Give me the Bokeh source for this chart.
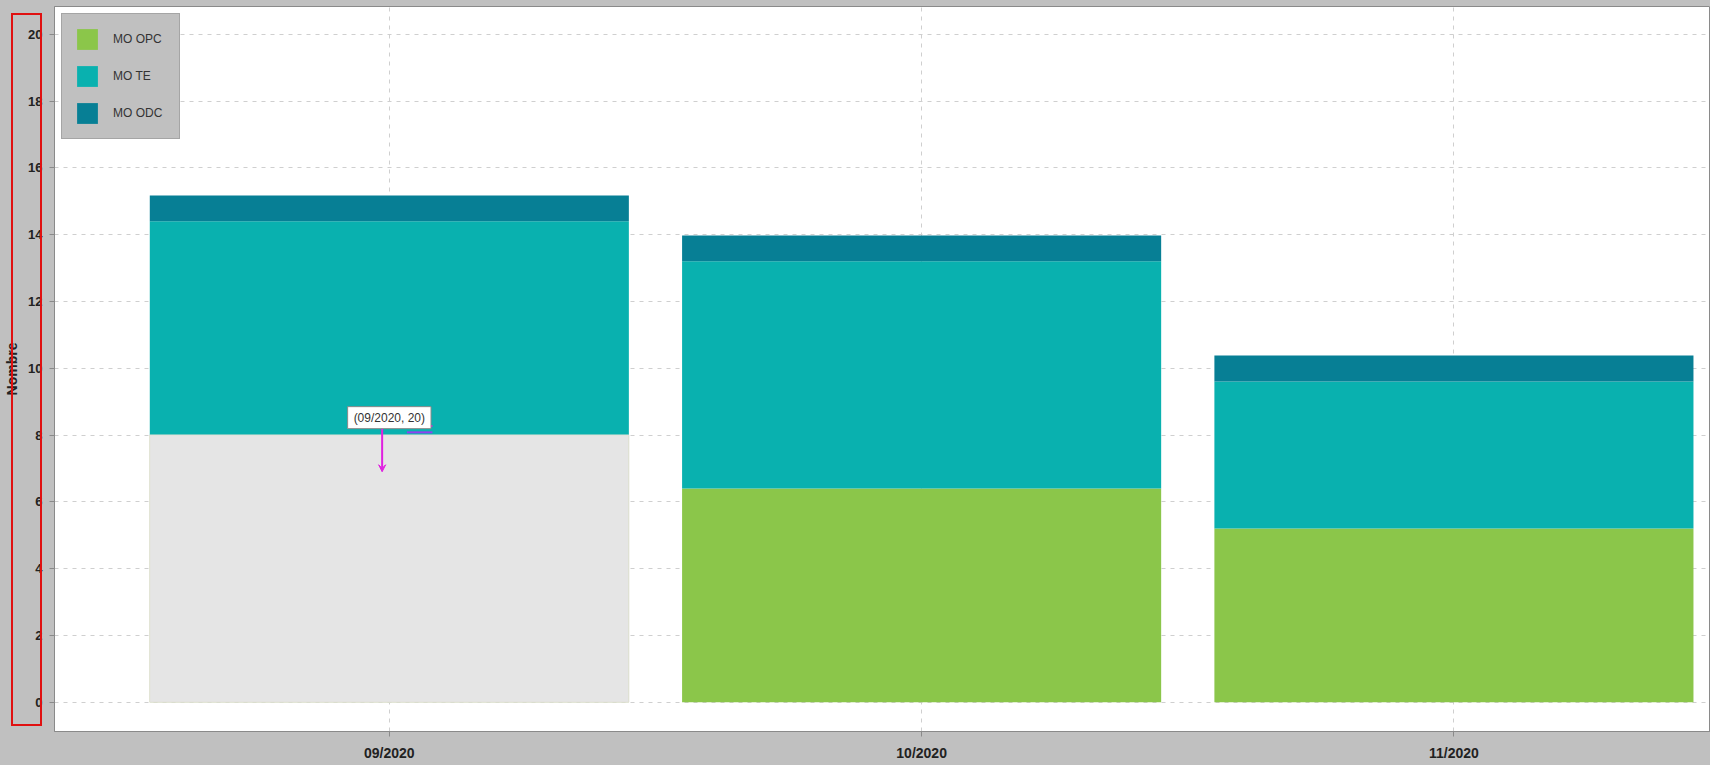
from bokeh.plotting import figure
from bokeh.embed import file_html
from bokeh.resources import INLINE
from bokeh.models import (ColumnDataSource, FixedTicker, SingleIntervalTicker, Legend,
                          Label, Arrow, VeeHead, GlobalInlineStyleSheet)

# ---- data ----
categories = ["09/2020", "10/2020", "11/2020"]
mo_opc = [8.0, 6.4, 5.2]
mo_te = [6.4, 6.8, 4.4]
mo_odc = [0.77, 0.77, 0.78]
series_names = ["MO OPC", "MO TE", "MO ODC"]
series_colors = ["#8BC64A", "#09B1AF", "#077F95"]
highlight_index = 0
tooltip_text = "(09/2020, 20)"
y_ticks_interval = 2

xs = list(range(len(categories)))
src = ColumnDataSource(dict(x=xs, opc=mo_opc, te=mo_te, odc=mo_odc))

W, H = 1710, 765
p = figure(width=W, height=H, output_backend="svg", toolbar_location=None,
           x_range=(-0.629, 2.482), y_range=(-0.877, 20.83),
           min_border_left=54, min_border_right=0, min_border_top=6, min_border_bottom=34)
# page background + the red hand-drawn bracket around the y tick labels
p.stylesheets = [GlobalInlineStyleSheet(css=(
    "body { background: #c0c0c0; }"
    "body::before { content: ''; position: absolute; left: 11px; top: 13px;"
    " width: 27px; height: 709px; border: 2px solid #E01010; z-index: 50;"
    " pointer-events: none; }"))]

p.background_fill_color = "white"
p.border_fill_color = "#c0c0c0"
p.outline_line_color = "#8a8a8a"
p.outline_line_width = 1

renderers = p.vbar_stack(["opc", "te", "odc"], x="x", width=0.9, source=src,
                         color=series_colors, line_color=None)

# highlighted (hovered) segment
hl = ColumnDataSource(dict(x=[xs[highlight_index]], top=[mo_opc[highlight_index]], bottom=[0]))
p.vbar(x="x", top="top", bottom="bottom", width=0.9, source=hl,
       fill_color="#E5E5E5", line_color="#E2E1D6", line_width=1)

# legend
legend = Legend(items=[(n, [r]) for n, r in zip(series_names, renderers)],
                location="top_left", margin=7)
legend.glyph_width = 26
legend.glyph_height = 26
legend.label_height = 26
legend.label_width = 54
legend.label_standoff = 13
legend.spacing = 11
legend.padding = 12
legend.label_text_font = "Liberation Sans"
legend.label_text_font_size = "12px"
legend.label_text_color = "#333333"
legend.background_fill_color = "#C0C0C0"
legend.background_fill_alpha = 1.0
legend.border_line_color = "#8a8a8a"
legend.border_line_width = 1.5
p.add_layout(legend)

# axes
p.xaxis.ticker = FixedTicker(ticks=xs)
p.xaxis.major_label_overrides = {i: c for i, c in enumerate(categories)}
p.yaxis.ticker = SingleIntervalTicker(interval=y_ticks_interval)
for ax in (p.xaxis, p.yaxis):
    ax.axis_line_color = "#8a8a8a"
    ax.major_tick_line_color = "#8a8a8a"
    ax.minor_tick_line_color = None
    ax.major_tick_in = 0
    ax.major_label_text_font = "Liberation Sans"
    ax.major_label_text_font_style = "bold"
    ax.major_label_text_color = "#222222"
p.xaxis.major_tick_out = 5
p.xaxis.major_label_standoff = 8
p.xaxis.major_label_text_font_size = "14px"
p.yaxis.major_tick_out = 5
p.yaxis.major_label_standoff = 7
p.yaxis.major_label_text_font_size = "13px"
p.yaxis.axis_label = "Nombre"
p.yaxis.axis_label_standoff = 5
p.yaxis.axis_label_text_font = "Liberation Sans"
p.yaxis.axis_label_text_font_style = "bold"
p.yaxis.axis_label_text_font_size = "14px"
p.yaxis.axis_label_text_color = "#222222"

# grids
p.xgrid.ticker = FixedTicker(ticks=xs)
for g in (p.xgrid, p.ygrid):
    g.grid_line_color = "#cfcfcf"
    g.grid_line_dash = "4 5"
    g.grid_line_width = 1

# tooltip markup
p.add_layout(Label(x=xs[highlight_index], y=8.52, text=tooltip_text,
                   text_align="center", text_baseline="middle",
                   text_font="Liberation Sans", text_font_size="12px",
                   text_color="#333333", background_fill_color="white",
                   border_line_color="#8a8a8a", border_line_width=1, padding=(6, 4)))
p.add_layout(Arrow(x_start=-0.0135, y_start=8.18, x_end=-0.0135, y_end=6.9,
                   line_color="#E020E0", line_width=2,
                   end=VeeHead(size=7, line_color="#E020E0", fill_color="#E020E0")))
p.segment(x0=[0.032], y0=[8.27], x1=[0.081], y1=[8.27], line_color="#E020E0", line_width=2)
p.segment(x0=[0.033], y0=[8.08], x1=[0.081], y1=[8.08], line_color="#9040F0", line_width=2)

open("out.html", "w").write(file_html(p, INLINE))
